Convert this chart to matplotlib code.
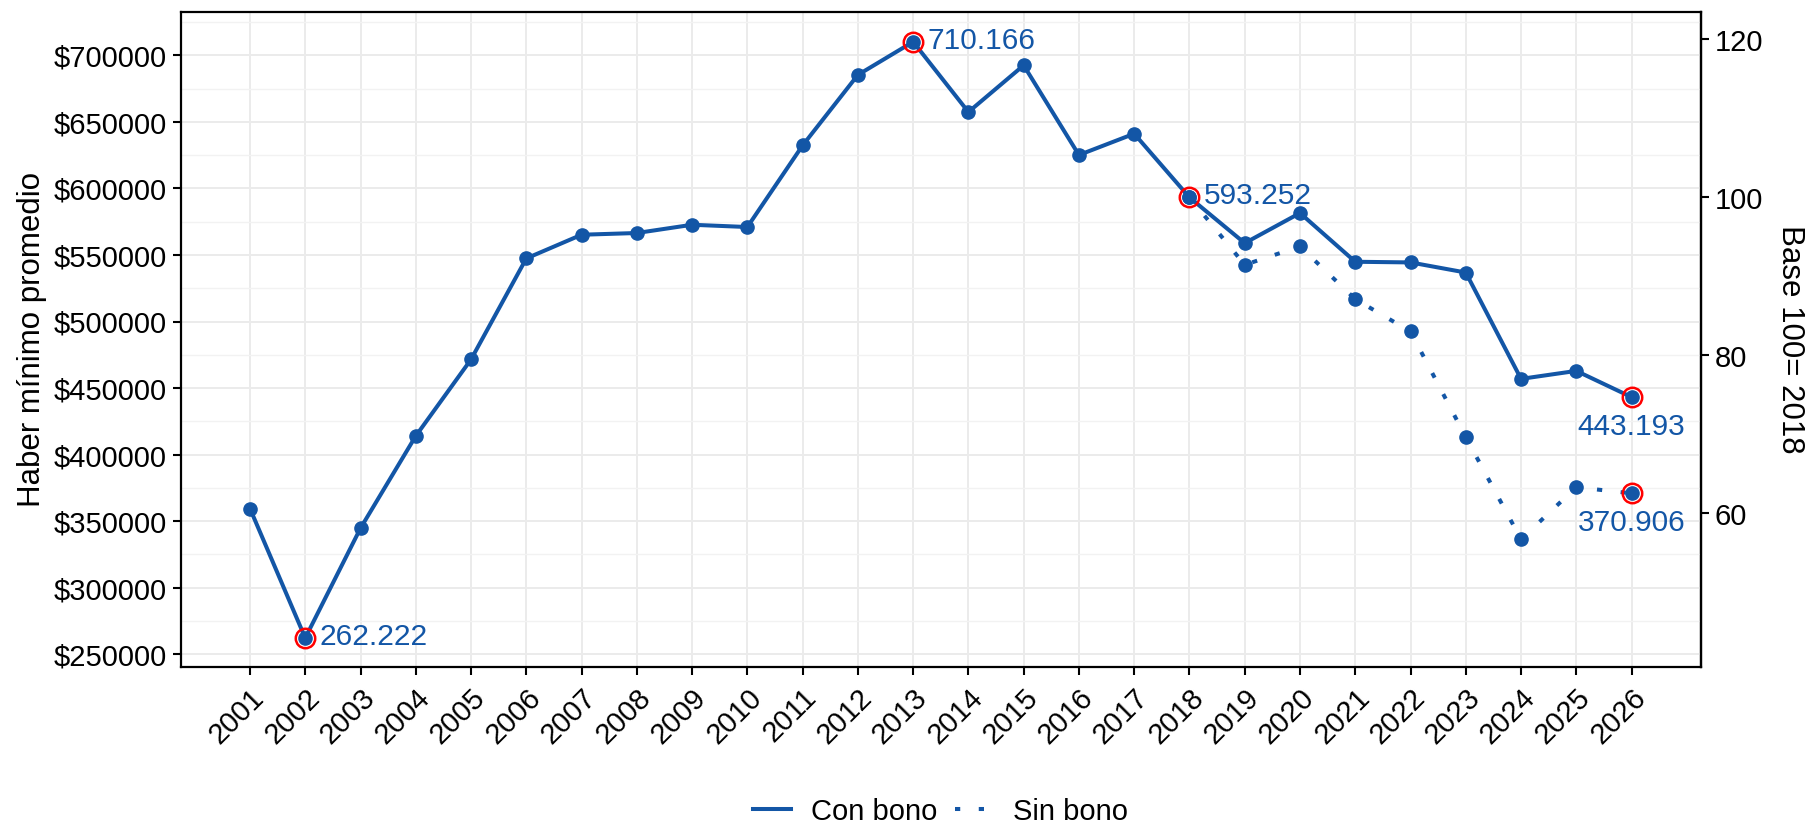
import matplotlib
matplotlib.use("Agg")
import matplotlib.pyplot as plt
from matplotlib.ticker import MultipleLocator, FixedLocator, FuncFormatter
from matplotlib.lines import Line2D

plt.rcParams['font.family'] = ['Liberation Sans', 'DejaVu Sans']

years = list(range(2001, 2027))
con_bono = [359500, 262222, 344700, 414000, 471500, 547400, 565200, 566500,
            572700, 571000, 632300, 685300, 710166, 657400, 692500, 625100,
            641100, 593252, 558900, 581500, 544900, 544400, 536800, 456900,
            462900, 443193]
sin_years = list(range(2018, 2027))
sin_bono = [593252, 542600, 556400, 516800, 492500, 413100, 336400, 375500, 370906]

labels_con = {2002: 262222, 2013: 710166, 2018: 593252}
labels_end = {2026: (443193, 370906)}

base_value = 593252
right_ticks = [60, 80, 100, 120]
left_ticks = list(range(250000, 700001, 50000))

blue = '#1356a6'
red = '#ff0000'
dotted = (0, (1.3, 4.6))

fig = plt.figure(figsize=(18.09, 8.284), dpi=100)
ax = fig.add_axes([0.1, 0.1948, 0.8401, 0.7903])

ax.plot(years, con_bono, color=blue, lw=2.9, marker='o', ms=9.5, zorder=4,
        solid_joinstyle='round')
ax.plot(sin_years, sin_bono, color=blue, lw=2.9, marker='o', ms=9.5, zorder=3,
        linestyle=dotted, dash_capstyle='butt')

def fmt(v):
    return f"{v:,.0f}".replace(",", ".")

# highlight circles
hx = [2002, 2013, 2018, 2026, 2026]
hy = [labels_con[2002], labels_con[2013], labels_con[2018]] + list(labels_end[2026])
ax.plot(hx, hy, linestyle='none', marker='o', ms=14, mfc='none', mec=red,
        mew=1.8, zorder=5)

for x, v in labels_con.items():
    ax.annotate(fmt(v), (x, v), xytext=(10, 1), textcoords='offset points',
                ha='left', va='center', color=blue, fontsize=21.5, zorder=6)
for x, vs in labels_end.items():
    for v in vs:
        ax.annotate(fmt(v), (x, v), xytext=(0, -21), textcoords='offset points',
                    ha='center', va='center', color=blue, fontsize=21.5, zorder=6)

ax.set_xlim(2001 - 1.25, 2026 + 1.25)
ax.set_ylim(240700, 732600)

ax.set_xticks(years)
ax.set_xticklabels([str(y) for y in years], rotation=45, ha='right', va='top',
                   rotation_mode='anchor', fontsize=21)
ax.yaxis.set_major_locator(FixedLocator(left_ticks))
ax.yaxis.set_minor_locator(MultipleLocator(25000))
ax.yaxis.set_major_formatter(FuncFormatter(lambda v, p: f"${v:.0f}"))
ax.tick_params(axis='y', labelsize=21, length=6, width=1.5, color='black', pad=4)
ax.tick_params(axis='x', length=6, width=1.5, color='black', pad=6)
ax.tick_params(axis='y', which='minor', length=0)

ax.grid(True, which='major', color='#ebebeb', lw=1.4, zorder=0)
ax.grid(True, which='minor', axis='y', color='#f2f2f2', lw=1.0, zorder=0)
ax.set_axisbelow(True)
for s in ax.spines.values():
    s.set_linewidth(1.6)
    s.set_color('black')

ax.set_ylabel("Haber mínimo promedio", fontsize=22.5, labelpad=5)

sec = ax.secondary_yaxis('right', functions=(lambda v: v / base_value * 100,
                                              lambda p: p * base_value / 100))
sec.set_yticks(right_ticks)
sec.tick_params(labelsize=21, length=6, width=1.5, pad=4)
sec.spines['right'].set_linewidth(1.6)
sec.set_ylabel("Base 100= 2018", fontsize=22.5, rotation=270, labelpad=30)

handles = [Line2D([0], [0], color=blue, lw=2.9),
           Line2D([0], [0], color=blue, lw=2.9, linestyle=dotted)]
fig.legend(handles, ["Con bono", "Sin bono"], loc='center',
           bbox_to_anchor=(0.52, 0.02), ncol=2, frameon=False, fontsize=21,
           handlelength=1.3, handletextpad=0.7, columnspacing=0.6)

fig.savefig("out.png", dpi=100)
